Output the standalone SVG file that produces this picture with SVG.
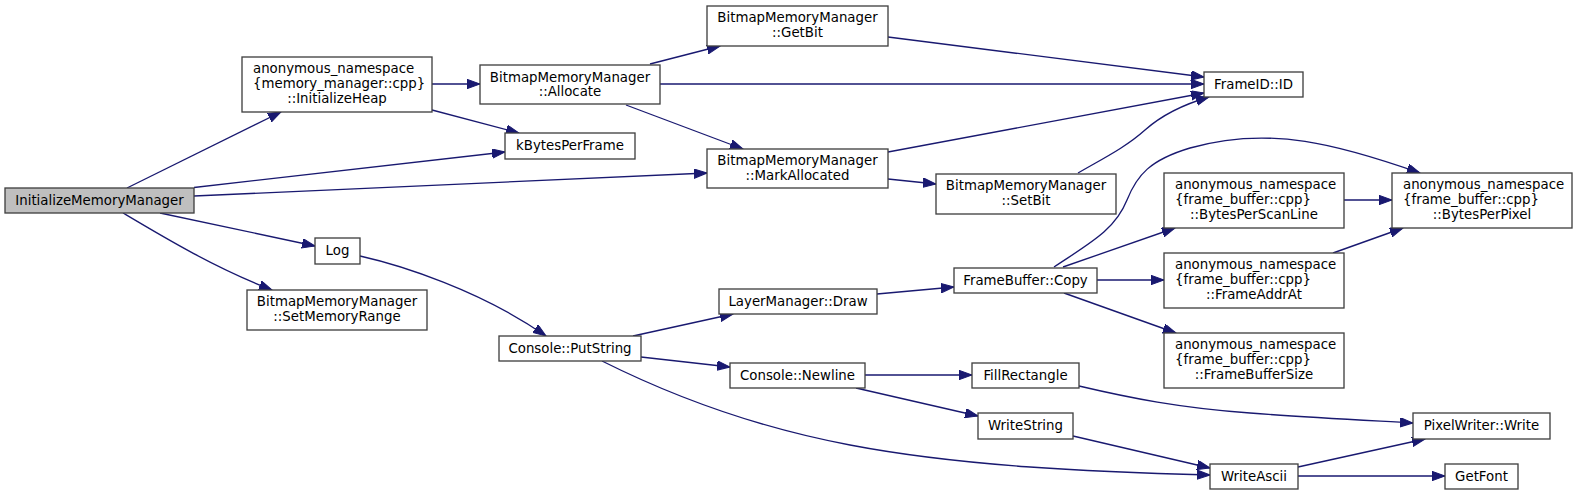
<svg xmlns="http://www.w3.org/2000/svg" width="1577" height="495" viewBox="0 0 1577 495">
<style>
.n rect{fill:#ffffff;stroke:#404040;stroke-width:1.33}
.n.root rect{fill:#bfbfbf}
text{font-family:"DejaVu Sans","Liberation Sans",sans-serif;font-size:13.33px;fill:#000}
.m{text-anchor:middle}
.s{text-anchor:start}
.e path{fill:none;stroke:#191970;stroke-width:1.33;marker-end:url(#ah)}
</style>
<defs>
<marker id="ah" markerUnits="userSpaceOnUse" markerWidth="14" markerHeight="10" refX="13" refY="4.7" orient="auto">
<path d="M0,0 L13,4.7 L0,9.4 z" fill="#191970" stroke="#191970" stroke-width="1"/>
</marker>
</defs>
<rect width="1577" height="495" fill="#ffffff"/>
<g id="edges" class="e">
<path d="M127,188 L281,112"/>
<path d="M194,187.5 L505,152"/>
<path d="M194,196 L707,173"/>
<path d="M160,213 L315,246"/>
<path d="M123,213 C165,238 215,268 272,290"/>
<path d="M432,84 L480,84"/>
<path d="M432,110 L519,133"/>
<path d="M650,64 L720,46"/>
<path d="M660,84 L1204,84"/>
<path d="M626,105 L743,149"/>
<path d="M888,37 L1204,77"/>
<path d="M888,152 L1204,93"/>
<path d="M888,179 L936,184"/>
<path d="M1078,173 C1100,160 1125,148 1145,130 C1163,114 1185,104 1209,97"/>
<path d="M360,256 C400,265 480,290 546,336"/>
<path d="M633,336 L733,314"/>
<path d="M641,357 L730,367"/>
<path d="M602,361 C680,400 760,428 850,445 C960,466 1090,472 1210,475"/>
<path d="M877,294 L954,287"/>
<path d="M1054,267 C1090,243 1115,230 1127,200 C1137,175 1150,160 1190,148 C1270,125 1340,145 1420,173"/>
<path d="M1063,267 L1175,228"/>
<path d="M1097,280 L1164,280"/>
<path d="M1064,293 L1176,333"/>
<path d="M1344,200 L1392,200"/>
<path d="M1333,253 L1403,228"/>
<path d="M865,375 L972,375"/>
<path d="M856,388 L978,416"/>
<path d="M1079,386 C1130,398 1180,408 1250,413 C1300,417 1360,420 1413,423"/>
<path d="M1073,436 L1210,468"/>
<path d="M1298,467 L1425,439"/>
<path d="M1298,476 L1445,476"/>
</g>
<g id="n_imm" class="n root"><rect x="5" y="188" width="189" height="25"/><text class="m" x="99.5" y="204.5">InitializeMemoryManager</text></g>
<g id="n_initheap" class="n"><rect x="242" y="57" width="190" height="55"/><text class="s" x="253" y="73">anonymous_namespace</text><text class="s" x="253" y="88">{memory_manager::cpp}</text><text class="m" x="337" y="103">::InitializeHeap</text></g>
<g id="n_allocate" class="n"><rect x="480" y="65" width="180" height="39"/><text class="m" x="570" y="81.5">BitmapMemoryManager</text><text class="m" x="570" y="96">::Allocate</text></g>
<g id="n_getbit" class="n"><rect x="707" y="6" width="181" height="40"/><text class="m" x="797.5" y="22">BitmapMemoryManager</text><text class="m" x="797.5" y="37">::GetBit</text></g>
<g id="n_markalloc" class="n"><rect x="707" y="149" width="181" height="39"/><text class="m" x="797.5" y="165">BitmapMemoryManager</text><text class="m" x="797.5" y="179.5">::MarkAllocated</text></g>
<g id="n_kbytes" class="n"><rect x="505" y="133" width="130" height="26"/><text class="m" x="570" y="150">kBytesPerFrame</text></g>
<g id="n_frameid" class="n"><rect x="1204" y="72" width="99" height="25"/><text class="m" x="1253.5" y="88.5">FrameID::ID</text></g>
<g id="n_setbit" class="n"><rect x="936" y="174" width="180" height="40"/><text class="m" x="1026" y="190">BitmapMemoryManager</text><text class="m" x="1026" y="205">::SetBit</text></g>
<g id="n_log" class="n"><rect x="315" y="238" width="45" height="26"/><text class="m" x="337.5" y="255">Log</text></g>
<g id="n_setmemrange" class="n"><rect x="247" y="290" width="180" height="40"/><text class="m" x="337" y="306">BitmapMemoryManager</text><text class="m" x="337" y="321">::SetMemoryRange</text></g>
<g id="n_putstring" class="n"><rect x="499" y="336" width="142" height="25"/><text class="m" x="570" y="352.5">Console::PutString</text></g>
<g id="n_lmdraw" class="n"><rect x="719" y="289" width="158" height="25"/><text class="m" x="798" y="305.5">LayerManager::Draw</text></g>
<g id="n_newline" class="n"><rect x="730" y="363" width="135" height="25"/><text class="m" x="797.5" y="379.5">Console::Newline</text></g>
<g id="n_fbcopy" class="n"><rect x="954" y="268" width="143" height="25"/><text class="m" x="1025.5" y="284.5">FrameBuffer::Copy</text></g>
<g id="n_bpsl" class="n"><rect x="1164" y="173" width="180" height="55"/><text class="s" x="1175" y="189">anonymous_namespace</text><text class="s" x="1175" y="204">{frame_buffer::cpp}</text><text class="m" x="1254" y="219">::BytesPerScanLine</text></g>
<g id="n_faa" class="n"><rect x="1164" y="253" width="180" height="55"/><text class="s" x="1175" y="269">anonymous_namespace</text><text class="s" x="1175" y="284">{frame_buffer::cpp}</text><text class="m" x="1254" y="299">::FrameAddrAt</text></g>
<g id="n_fbs" class="n"><rect x="1164" y="333" width="180" height="55"/><text class="s" x="1175" y="349">anonymous_namespace</text><text class="s" x="1175" y="364">{frame_buffer::cpp}</text><text class="m" x="1254" y="379">::FrameBufferSize</text></g>
<g id="n_bpp" class="n"><rect x="1392" y="173" width="180" height="55"/><text class="s" x="1403" y="189">anonymous_namespace</text><text class="s" x="1403" y="204">{frame_buffer::cpp}</text><text class="m" x="1482" y="219">::BytesPerPixel</text></g>
<g id="n_fillrect" class="n"><rect x="972" y="363" width="107" height="25"/><text class="m" x="1025.5" y="379.5">FillRectangle</text></g>
<g id="n_writestring" class="n"><rect x="978" y="413" width="95" height="26"/><text class="m" x="1025.5" y="430">WriteString</text></g>
<g id="n_pwwrite" class="n"><rect x="1413" y="413" width="137" height="26"/><text class="m" x="1481.5" y="430">PixelWriter::Write</text></g>
<g id="n_writeascii" class="n"><rect x="1210" y="464" width="88" height="25"/><text class="m" x="1254" y="480.5">WriteAscii</text></g>
<g id="n_getfont" class="n"><rect x="1445" y="464" width="73" height="25"/><text class="m" x="1481.5" y="480.5">GetFont</text></g>
</svg>
